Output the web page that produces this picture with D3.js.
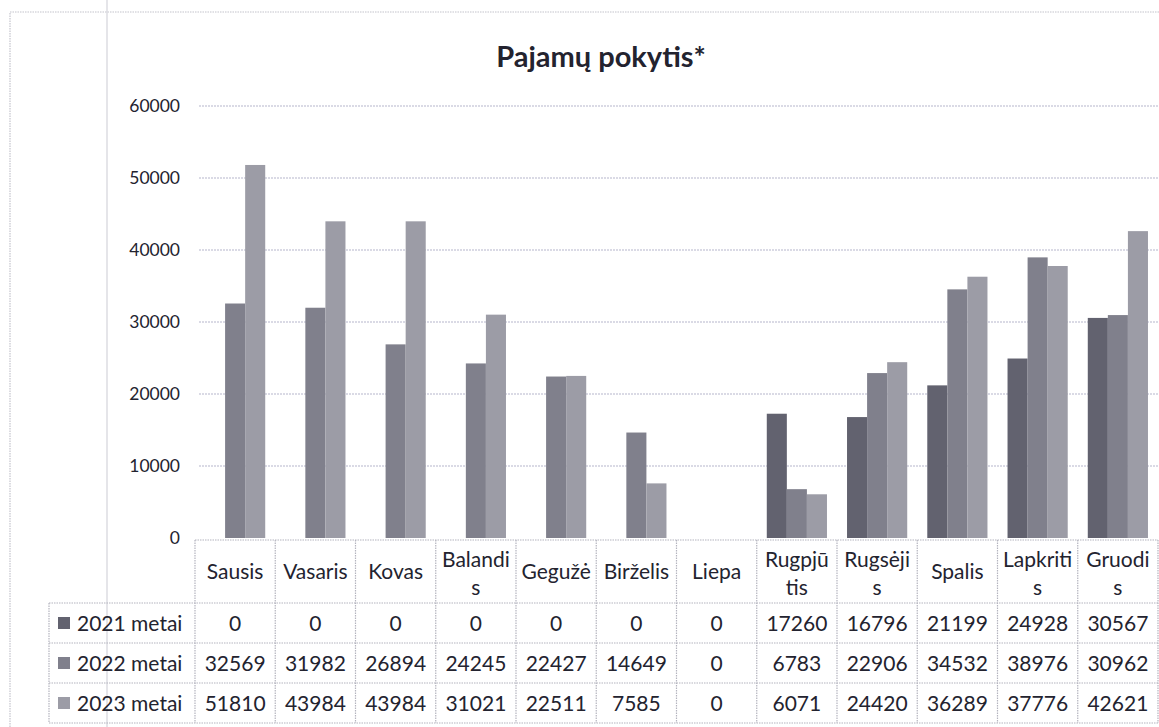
<!DOCTYPE html>
<html>
<head>
<meta charset="utf-8">
<script src="https://cdn.jsdelivr.net/npm/d3@7"></script>
<style>
  body { margin: 0; background: #fff; }
  text { font-family: Lato, "Open Sans", sans-serif; fill: #23232f; }
</style>
</head>
<body>
<div id="chart"></div>
<script>
var months = ["Sausis", "Vasaris", "Kovas", "Balandis", "Gegužė", "Birželis",
              "Liepa", "Rugpjūtis", "Rugsėjis", "Spalis", "Lapkritis", "Gruodis"];
// header text as it wraps in the table cells
var monthLines = [["Sausis"], ["Vasaris"], ["Kovas"], ["Balandi", "s"], ["Gegužė"], ["Birželis"],
                  ["Liepa"], ["Rugpjū", "tis"], ["Rugsėji", "s"], ["Spalis"], ["Lapkriti", "s"], ["Gruodi", "s"]];
var seriesNames = ["2021 metai", "2022 metai", "2023 metai"];
var v2021 = [0, 0, 0, 0, 0, 0, 0, 17260, 16796, 21199, 24928, 30567];
var v2022 = [32569, 31982, 26894, 24245, 22427, 14649, 0, 6783, 22906, 34532, 38976, 30962];
var v2023 = [51810, 43984, 43984, 31021, 22511, 7585, 0, 6071, 24420, 36289, 37776, 42621];
var yTicks = [0, 10000, 20000, 30000, 40000, 50000, 60000];

var W = 1159, H = 727;
var colors = ["#62626f", "#80808c", "#9c9ca6"];
var seriesVals = [v2021, v2022, v2023];

var svg = d3.select("#chart").append("svg")
    .attr("width", W)
    .attr("height", H);

// outer chart frame + scan fold line
svg.append("path")
    .attr("d", "M10,727 L10,12 L1159,12")
    .attr("fill", "none")
    .attr("stroke", "#c4c4cc")
    .attr("stroke-width", 1.2)
    .attr("stroke-dasharray", "1.5,1");
svg.append("line")
    .attr("x1", 107).attr("x2", 107).attr("y1", 0).attr("y2", H)
    .attr("stroke", "#d4d4da").attr("stroke-width", 1.2);

var x = d3.scaleBand().domain(months).range([195, 1158]).paddingInner(0.25).paddingOuter(0.125);
var xs = d3.scaleBand().domain(seriesNames).range([0, x.bandwidth()]);
var y = d3.scaleLinear().domain([0, 60000]).range([538, 106]);

svg.append("text")
    .attr("x", 601).attr("y", 67)
    .attr("text-anchor", "middle")
    .style("font-size", "29px").style("font-weight", "bold")
    .text("Pajamų pokytis*");

// gridlines
svg.append("g").selectAll("line")
    .data(yTicks.slice(1))
    .enter().append("line")
    .attr("x1", 199).attr("x2", W)
    .attr("y1", function(d) { return y(d); })
    .attr("y2", function(d) { return y(d); })
    .attr("stroke", "#b6b6cc")
    .attr("stroke-width", 1.2)
    .attr("stroke-dasharray", "2,1");

var yAxis = svg.append("g")
    .attr("transform", "translate(180,0)")
    .call(d3.axisLeft(y).tickValues(yTicks).tickFormat(d3.format("d")).tickSize(0).tickPadding(0));
yAxis.select(".domain").remove();
yAxis.selectAll("text")
    .style("font-size", "17.5px")
    .style("font-family", "Lato, sans-serif")
    .attr("fill", "#23232f");

// bars
var groups = svg.append("g").selectAll("g")
    .data(months)
    .enter().append("g")
    .attr("transform", function(d) { return "translate(" + x(d) + ",0)"; });

groups.selectAll("rect")
    .data(function(m, i) {
        return seriesNames.map(function(s, j) { return {s: s, j: j, v: seriesVals[j][i]}; });
    })
    .enter().append("rect")
    .attr("x", function(d) { return xs(d.s); })
    .attr("width", xs.bandwidth())
    .attr("y", function(d) { return y(d.v); })
    .attr("height", function(d) { return y(0) - y(d.v); })
    .attr("fill", function(d) { return colors[d.j]; });

// data table
var tTop = 540, hdrBot = 603, rowH = 40, tLeft = 49, colLeft = 195, tRight = 1158;
var colW = (tRight - colLeft) / months.length;
var tbl = svg.append("g")
    .attr("fill", "none")
    .attr("stroke", "#b4b4be")
    .attr("stroke-width", 1.2)
    .attr("stroke-dasharray", "1.5,1");

tbl.append("line").attr("x1", colLeft).attr("x2", tRight).attr("y1", tTop).attr("y2", tTop);
for (var r = 0; r <= 3; r++) {
    tbl.append("line").attr("x1", tLeft).attr("x2", tRight)
        .attr("y1", hdrBot + r * rowH).attr("y2", hdrBot + r * rowH);
}
tbl.append("line").attr("x1", tLeft).attr("x2", tLeft).attr("y1", hdrBot).attr("y2", hdrBot + 3 * rowH);
for (var c = 0; c <= months.length; c++) {
    tbl.append("line").attr("x1", colLeft + c * colW).attr("x2", colLeft + c * colW)
        .attr("y1", tTop).attr("y2", hdrBot + 3 * rowH);
}

var hdr = svg.append("g").selectAll("text")
    .data(monthLines)
    .enter().append("text")
    .attr("text-anchor", "middle")
    .style("font-size", "21px")
    .attr("transform", function(d, i) { return "translate(" + (colLeft + (i + 0.5) * colW) + ",0)"; });
hdr.selectAll("tspan")
    .data(function(d) { return d.map(function(t, k) { return {t: t, k: k, n: d.length}; }); })
    .enter().append("tspan")
    .attr("x", 0)
    .attr("y", function(d) { return d.n === 1 ? 579 : 567 + d.k * 28; })
    .text(function(d) { return d.t; });

seriesNames.forEach(function(s, j) {
    var cy = hdrBot + j * rowH + rowH / 2;
    svg.append("rect")
        .attr("x", 58).attr("y", cy - 6).attr("width", 12).attr("height", 12)
        .attr("fill", colors[j]);
    svg.append("text")
        .attr("x", 77).attr("y", cy + 8)
        .style("font-size", "21px")
        .text(s);
    svg.append("g").selectAll("text")
        .data(seriesVals[j])
        .enter().append("text")
        .attr("x", function(d, i) { return colLeft + (i + 0.5) * colW; })
        .attr("y", cy + 8)
        .attr("text-anchor", "middle")
        .style("font-size", "21px")
        .text(function(d) { return d; });
});
</script>
</body>
</html>
